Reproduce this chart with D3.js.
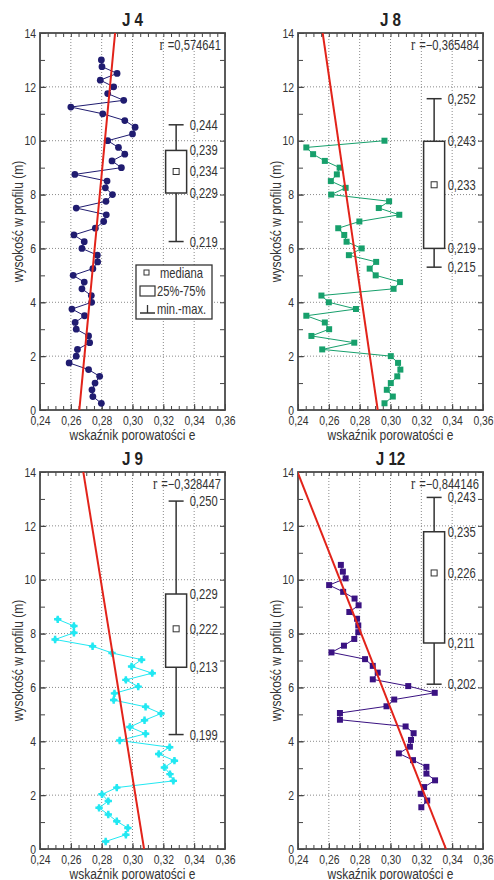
<!DOCTYPE html>
<html>
<head>
<meta charset="utf-8">
<script src="https://cdn.jsdelivr.net/npm/d3@7"></script>
<style>
  body { margin: 0; background: #fff; }
  svg { display: block; }
</style>
</head>
<body>
<svg width="494" height="880"></svg>
<script>
// depth (m) and porosity index e, bottom to top
const depthJ4 = [0.25, 0.5, 0.75, 1.0, 1.25, 1.5, 1.75, 2.0, 2.25, 2.5, 2.75, 3.0, 3.25, 3.5, 3.75, 4.0, 4.25, 4.5, 4.75, 5.0,
  5.25, 5.5, 5.75, 6.0, 6.25, 6.5, 6.75, 7.0, 7.25, 7.5, 7.75, 8.0, 8.25, 8.5, 8.75, 9.0, 9.25, 9.5, 9.75, 10.0,
  10.25, 10.5, 10.75, 11.0, 11.25, 11.5, 11.75, 12.0, 12.25, 12.5, 12.75, 13.0];
const eJ4 = [0.2798, 0.2743, 0.2737, 0.2757, 0.2787, 0.2715, 0.2589, 0.2635, 0.2643, 0.2722, 0.2715, 0.2635, 0.2628, 0.2689, 0.2607, 0.2735, 0.2733, 0.2672, 0.2687, 0.2615,
  0.2743, 0.2774, 0.2772, 0.2672, 0.2687, 0.2620, 0.2759, 0.2813, 0.2830, 0.2635, 0.2828, 0.2870, 0.2824, 0.2835, 0.2626, 0.2928, 0.2867, 0.2950, 0.2909, 0.2839,
  0.3000, 0.3017, 0.2950, 0.2807, 0.2600, 0.2943, 0.2839, 0.2878, 0.2791, 0.2900, 0.2802, 0.2798];

const depthJ8 = [0.25, 0.5, 0.75, 1.0, 1.25, 1.5, 1.75, 2.0, 2.25, 2.5, 2.75, 3.0, 3.25, 3.5, 3.75, 4.0, 4.25, 4.5, 4.75, 5.0,
  5.25, 5.5, 5.75, 6.0, 6.25, 6.5, 6.75, 7.0, 7.25, 7.5, 7.75, 8.0, 8.25, 8.5, 8.75, 9.0, 9.25, 9.5, 9.75, 10.0];
const eJ8 = [0.2961, 0.3015, 0.2976, 0.3002, 0.3044, 0.3064, 0.3049, 0.3002, 0.2557, 0.2765, 0.2487, 0.2602, 0.2574, 0.2454, 0.2776, 0.2600, 0.2552, 0.3020, 0.3062, 0.2904,
  0.2865, 0.2907, 0.2730, 0.2813, 0.2715, 0.2700, 0.2661, 0.2798, 0.3057, 0.2924, 0.2991, 0.2615, 0.2709, 0.2613, 0.2652, 0.2670, 0.2574, 0.2498, 0.2454, 0.2961];

const depthJ9 = [0.28, 0.53, 0.78, 1.03, 1.28, 1.53, 1.78, 2.03, 2.28, 2.53, 2.78, 3.03, 3.28, 3.53, 3.78, 4.03, 4.28,
  4.53, 4.78, 5.03, 5.28, 5.53, 5.78, 6.03, 6.28, 6.53, 6.78, 7.03, 7.28, 7.53, 7.78, 8.03, 8.28, 8.53];
const eJ9 = [0.2826, 0.2957, 0.2970, 0.2898, 0.2843, 0.2783, 0.2843, 0.2802, 0.2898, 0.3265, 0.3243, 0.3207, 0.3272, 0.3170, 0.3241, 0.2917, 0.3085,
  0.2983, 0.3078, 0.3185, 0.3085, 0.2878, 0.2883, 0.3037, 0.2957, 0.3128, 0.2994, 0.3059, 0.2867, 0.2741, 0.2498, 0.2620, 0.2620, 0.2515];

const depthJ12 = [1.55, 1.8, 2.05, 2.3, 2.55, 2.8, 3.05, 3.3, 3.55, 3.8, 4.05, 4.3, 4.55, 4.8, 5.05, 5.3, 5.55, 5.8, 6.05,
  6.3, 6.55, 6.8, 7.05, 7.3, 7.55, 7.8, 8.05, 8.3, 8.55, 8.8, 9.05, 9.3, 9.55, 9.8, 10.05, 10.3, 10.55];
const eJ12 = [0.3200, 0.3238, 0.3196, 0.3218, 0.3289, 0.3233, 0.3233, 0.3146, 0.3054, 0.3126, 0.3133, 0.3150, 0.3098, 0.2672, 0.2672, 0.2974, 0.3024, 0.3287, 0.3115,
  0.2885, 0.2917, 0.2885, 0.2835, 0.2617, 0.2698, 0.2765, 0.2791, 0.2791, 0.2783, 0.2733, 0.2793, 0.2767, 0.2693, 0.2602, 0.2709, 0.2691, 0.2678];

// regression line: e at 0 m and at 14 m
const fitJ4 = [0.2655, 0.2887];
const fitJ8 = [0.2917, 0.2560];
const fitJ9 = [0.3075, 0.2681];
const fitJ12 = [0.3360, 0.2397];

const rValues = [0.574641, -0.365484, -0.328447, -0.844146];
const titles = ["J 4", "J 8", "J 9", "J 12"];

// box plot stats: min, q1, median, q3, max
const boxJ4 = [0.2188, 0.2294, 0.2341, 0.2387, 0.2443];
const boxJ8 = [0.2151, 0.2192, 0.2331, 0.2426, 0.2519];
const boxJ9 = [0.1987, 0.2134, 0.2218, 0.2294, 0.2497];
const boxJ12 = [0.2019, 0.2109, 0.2262, 0.2352, 0.2427];
// lower end of the box value scale (at 0 m) for each panel
const boxLow = [0.1820, 0.1839, 0.1737, 0.1659];

const legendLabels = ["mediana", "25%-75%", "min.-max."];

const font = "'Liberation Sans', Arial, sans-serif";
const squeeze = 0.8;   // Arial squeezed to look like Arial Narrow
const fmt3 = v => d3.format(".3f")(v).replace(".", ",");
const fmt2 = v => d3.format(".2f")(v).replace(".", ",");

function label(parent, x, y, str, size, anchor) {
  return parent.append("text")
    .attr("transform", "translate(" + x + "," + y + ") scale(" + squeeze + ",1)")
    .attr("text-anchor", anchor || "start")
    .attr("font-family", font).attr("font-size", size).attr("fill", "#333")
    .text(str);
}

const panels = [
  {title: titles[0], depth: depthJ4, e: eJ4, fit: fitJ4, r: rValues[0], box: boxJ4, boxLow: boxLow[0],
   color: "#201c70", marker: "circle", left: 40, top: 33, legend: true},
  {title: titles[1], depth: depthJ8, e: eJ8, fit: fitJ8, r: rValues[1], box: boxJ8, boxLow: boxLow[1],
   color: "#17a06c", marker: "square", left: 298, top: 33},
  {title: titles[2], depth: depthJ9, e: eJ9, fit: fitJ9, r: rValues[2], box: boxJ9, boxLow: boxLow[2],
   color: "#22e8f2", marker: "cross", left: 40, top: 472},
  {title: titles[3], depth: depthJ12, e: eJ12, fit: fitJ12, r: rValues[3], box: boxJ12, boxLow: boxLow[3],
   color: "#3a1282", marker: "square", left: 298, top: 472}
];

const width = 185;
const height = 377;
const boxCenter = 0.3283;
const boxW = 21;

const svg = d3.select("svg");

panels.forEach((p, i) => {
  const g = svg.append("g").attr("transform", "translate(" + p.left + "," + p.top + ")");

  const x = d3.scaleLinear().domain([0.24, 0.36]).range([0, width]);
  const y = d3.scaleLinear().domain([0, 14]).range([height, 0]);
  const yBox = d3.scaleLinear().domain([p.boxLow, p.boxLow + 14 / 170]).range([height, 0]);

  // dotted grid
  g.append("g").selectAll("line")
    .data([0.26, 0.28, 0.30, 0.32, 0.34])
    .join("line")
    .attr("x1", d => x(d)).attr("x2", d => x(d))
    .attr("y1", 0).attr("y2", height)
    .attr("stroke", "#8a8a8a").attr("stroke-dasharray", "1,2");
  g.append("g").selectAll("line")
    .data([2, 4, 6, 8, 10, 12])
    .join("line")
    .attr("y1", d => y(d)).attr("y2", d => y(d))
    .attr("x1", 0).attr("x2", width)
    .attr("stroke", "#8a8a8a").attr("stroke-dasharray", "1,2");

  // inward ticks on all four sides
  const minorX = d3.range(0, 25).map(k => 0.24 + k * 0.005);
  const majorX = d3.range(0, 7).map(k => 0.24 + k * 0.02);
  const minorY = d3.range(0, 15);
  const majorY = d3.range(0, 15, 2);

  const axes = [
    d3.axisBottom(x).tickValues(minorX).tickSize(-4).tickFormat(""),
    d3.axisTop(x).tickValues(minorX).tickSize(-4).tickFormat(""),
    d3.axisLeft(y).tickValues(minorY).tickSize(-5).tickFormat(""),
    d3.axisRight(y).tickValues(minorY).tickSize(-5).tickFormat("")
  ];
  const shifts = ["translate(0," + height + ")", null, null, "translate(" + width + ",0)"];
  axes.forEach((ax, k) => {
    const a = g.append("g").attr("transform", shifts[k]).call(ax);
    a.select(".domain").remove();
    a.selectAll("line").attr("stroke", "#444");
  });

  // tick labels
  const xl = g.append("g").attr("transform", "translate(0," + height + ")")
    .call(d3.axisBottom(x).tickValues(majorX).tickSize(-6).tickPadding(6).tickFormat(fmt2));
  xl.select(".domain").remove();
  xl.selectAll("line").attr("stroke", "#444");
  xl.selectAll("text")
    .attr("transform", "scale(" + squeeze + ",1)")
    .attr("font-family", font).attr("font-size", 13).attr("fill", "#333");

  const yl = g.append("g")
    .call(d3.axisLeft(y).tickValues(majorY).tickSize(-6).tickPadding(5));
  yl.select(".domain").remove();
  yl.selectAll("line").attr("stroke", "#444");
  yl.selectAll("text")
    .attr("x", -4 / squeeze)
    .attr("transform", "scale(" + squeeze + ",1)")
    .attr("font-family", font).attr("font-size", 13).attr("fill", "#333");

  // frame
  g.append("rect")
    .attr("width", width).attr("height", height)
    .attr("fill", "none").attr("stroke", "#4a4a4a").attr("stroke-width", 1.8);

  // data line and markers
  const pts = p.depth.map((d, k) => ({depth: d, e: p.e[k]}));
  const line = d3.line().x(d => x(d.e)).y(d => y(d.depth));
  g.append("path")
    .datum(pts)
    .attr("fill", "none")
    .attr("stroke", p.color)
    .attr("stroke-width", 1)
    .attr("d", line);

  const symType = p.marker === "circle" ? d3.symbolCircle : p.marker === "square" ? d3.symbolSquare : d3.symbolCross;
  const symSize = p.marker === "circle" ? 36 : p.marker === "square" ? 36 : 30;
  g.append("g").selectAll("path")
    .data(pts)
    .join("path")
    .attr("transform", d => "translate(" + x(d.e) + "," + y(d.depth) + ")")
    .attr("d", d3.symbol().type(symType).size(symSize))
    .attr("fill", p.color);
  if (p.marker === "cross") {
    g.append("g").selectAll("circle")
      .data(pts)
      .join("circle")
      .attr("cx", d => x(d.e)).attr("cy", d => y(d.depth))
      .attr("r", 2.3)
      .attr("fill", p.color);
  }

  // regression line, clipped to the plot
  const clipId = "clip" + i;
  g.append("clipPath").attr("id", clipId)
    .append("rect").attr("width", width).attr("height", height);
  g.append("line")
    .attr("clip-path", "url(#" + clipId + ")")
    .attr("x1", x(p.fit[0])).attr("y1", y(0))
    .attr("x2", x(p.fit[1])).attr("y2", y(14))
    .attr("stroke", "#e2231a")
    .attr("stroke-width", 2);

  // box plot
  const bx = x(boxCenter);
  const [bMin, bQ1, bMed, bQ3, bMax] = p.box;
  const bp = g.append("g").attr("stroke", "#333").attr("fill", "none").attr("stroke-width", 1.5);
  bp.append("line").attr("x1", bx).attr("x2", bx).attr("y1", yBox(bMax)).attr("y2", yBox(bQ3));
  bp.append("line").attr("x1", bx).attr("x2", bx).attr("y1", yBox(bQ1)).attr("y2", yBox(bMin));
  bp.append("line").attr("x1", bx - 7.5).attr("x2", bx + 7.5).attr("y1", yBox(bMax)).attr("y2", yBox(bMax));
  bp.append("line").attr("x1", bx - 7.5).attr("x2", bx + 7.5).attr("y1", yBox(bMin)).attr("y2", yBox(bMin));
  bp.append("rect")
    .attr("x", bx - boxW / 2).attr("width", boxW)
    .attr("y", yBox(bQ3)).attr("height", yBox(bQ1) - yBox(bQ3))
    .attr("fill", "#fff");
  bp.append("rect")
    .attr("x", bx - 3).attr("y", yBox(bMed) - 3)
    .attr("width", 6).attr("height", 6)
    .attr("stroke-width", 1).attr("fill", "#fff");

  p.box.forEach(v => label(g, bx + boxW / 2 + 3, yBox(v) + 5, fmt3(v), 14));

  // r value
  const rt = g.append("text")
    .attr("transform", "translate(" + (width - 4) + ",17) scale(" + squeeze + ",1)")
    .attr("text-anchor", "end")
    .attr("font-family", font).attr("font-size", 14).attr("fill", "#333");
  rt.append("tspan").attr("font-family", "'Liberation Serif', serif").attr("font-size", 16).text("r");
  rt.append("tspan").attr("dx", 5).text("=" + d3.format(".6f")(p.r).replace(".", ","));

  // titles
  label(g, width / 2, -7, p.title, 19, "middle")
    .attr("font-weight", "bold").attr("fill", "#222");
  label(g, width / 2, height + 30, "wskaźnik porowatości e", 15, "middle");
  g.append("text")
    .attr("transform", "translate(-17," + height / 2 + ") rotate(-90) scale(" + squeeze + ",1)")
    .attr("text-anchor", "middle")
    .attr("font-family", font).attr("font-size", 15).attr("fill", "#333")
    .text("wysokość w profilu (m)");

  // legend
  if (p.legend) {
    const lg = g.append("g").attr("transform", "translate(96,232)");
    lg.append("rect").attr("width", 76).attr("height", 54)
      .attr("fill", "#fff").attr("stroke", "#333").attr("stroke-width", 1.3);
    lg.append("rect").attr("x", 8).attr("y", 5).attr("width", 5).attr("height", 5)
      .attr("fill", "#fff").attr("stroke", "#333");
    lg.append("rect").attr("x", 4).attr("y", 21).attr("width", 15).attr("height", 10)
      .attr("fill", "#fff").attr("stroke", "#333").attr("stroke-width", 1.2);
    lg.append("path").attr("d", "M4,48H19M11.5,48V40")
      .attr("fill", "none").attr("stroke", "#333").attr("stroke-width", 1.3);
    legendLabels.forEach((d, k) => label(lg, k === 0 ? 24 : 21, 13 + k * 18, d, 14));
  }
});
</script>
</body>
</html>
